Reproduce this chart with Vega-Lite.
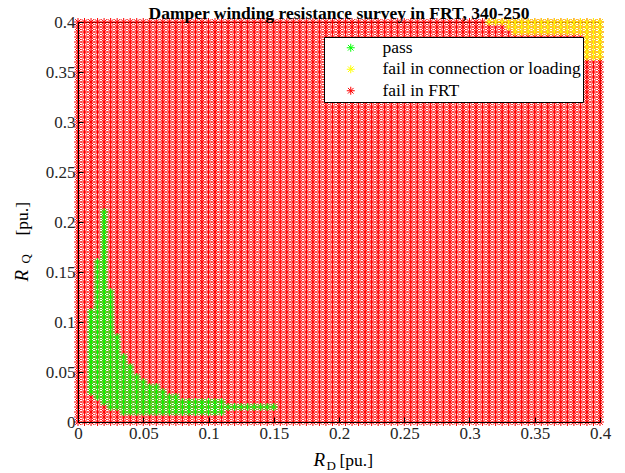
{
  "$schema": "https://vega.github.io/schema/vega-lite/v6.json",
  "width": 522,
  "height": 400,
  "autosize": {"type": "none"},
  "padding": {"left": 78, "top": 22, "right": 25, "bottom": 51},
  "background": "white",
  "title": {
    "text": "Damper winding resistance survey in FRT, 340-250",
    "font": "Liberation Serif",
    "fontSize": 17.5,
    "fontWeight": "bold",
    "color": "black",
    "anchor": "middle",
    "frame": "group",
    "baseline": "alphabetic",
    "offset": -23
  },
  "config": {
    "view": {"stroke": "black", "strokeWidth": 1},
    "axis": {
      "grid": false,
      "labelFont": "Liberation Serif",
      "labelFontSize": 17,
      "labelColor": "#262626",
      "labelFlush": false,
      "titleColor": "black",
      "titleFont": "Liberation Serif",
      "titleFontWeight": "normal",
      "domainColor": "black",
      "tickColor": "black"
    }
  },
  "datasets": {
    "surveyGrid": [
      {
        "RD": [0,0.005,0.01,0.015,0.02,0.025,0.03,0.035,0.04,0.045,0.05,0.055,0.06,0.065,0.07,0.075,0.08,0.085,0.09,0.095,0.1,0.105,0.11,0.115,0.12,0.125,0.13,0.135,0.14,0.145,0.15,0.155,0.16,0.165,0.17,0.175,0.18,0.185,0.19,0.195,0.2,0.205,0.21,0.215,0.22,0.225,0.23,0.235,0.24,0.245,0.25,0.255,0.26,0.265,0.27,0.275,0.28,0.285,0.29,0.295,0.3,0.305,0.31,0.315,0.32,0.325,0.33,0.335,0.34,0.345,0.35,0.355,0.36,0.365,0.37,0.375,0.38,0.385,0.39,0.395,0.4],
        "RQ": [0,0.005,0.01,0.015,0.02,0.025,0.03,0.035,0.04,0.045,0.05,0.055,0.06,0.065,0.07,0.075,0.08,0.085,0.09,0.095,0.1,0.105,0.11,0.115,0.12,0.125,0.13,0.135,0.14,0.145,0.15,0.155,0.16,0.165,0.17,0.175,0.18,0.185,0.19,0.195,0.2,0.205,0.21,0.215,0.22,0.225,0.23,0.235,0.24,0.245,0.25,0.255,0.26,0.265,0.27,0.275,0.28,0.285,0.29,0.295,0.3,0.305,0.31,0.315,0.32,0.325,0.33,0.335,0.34,0.345,0.35,0.355,0.36,0.365,0.37,0.375,0.38,0.385,0.39,0.395,0.4],
        "result": "fail in FRT"
      }
    ],
    "pass": [
      {"RD":0.02,"RQ":0.21},{"RD":0.02,"RQ":0.205},{"RD":0.02,"RQ":0.2},{"RD":0.02,"RQ":0.195},{"RD":0.02,"RQ":0.19},
      {"RD":0.02,"RQ":0.185},{"RD":0.02,"RQ":0.18},{"RD":0.02,"RQ":0.175},{"RD":0.02,"RQ":0.17},{"RD":0.02,"RQ":0.165},
      {"RD":0.015,"RQ":0.16},{"RD":0.02,"RQ":0.16},
      {"RD":0.015,"RQ":0.155},{"RD":0.02,"RQ":0.155},
      {"RD":0.015,"RQ":0.15},{"RD":0.02,"RQ":0.15},
      {"RD":0.015,"RQ":0.145},{"RD":0.02,"RQ":0.145},
      {"RD":0.015,"RQ":0.14},{"RD":0.02,"RQ":0.14},
      {"RD":0.015,"RQ":0.135},{"RD":0.02,"RQ":0.135},
      {"RD":0.015,"RQ":0.13},{"RD":0.02,"RQ":0.13},{"RD":0.025,"RQ":0.13},
      {"RD":0.015,"RQ":0.125},{"RD":0.02,"RQ":0.125},{"RD":0.025,"RQ":0.125},
      {"RD":0.015,"RQ":0.12},{"RD":0.02,"RQ":0.12},{"RD":0.025,"RQ":0.12},
      {"RD":0.015,"RQ":0.115},{"RD":0.02,"RQ":0.115},{"RD":0.025,"RQ":0.115},
      {"RD":0.01,"RQ":0.11},{"RD":0.015,"RQ":0.11},{"RD":0.02,"RQ":0.11},{"RD":0.025,"RQ":0.11},
      {"RD":0.01,"RQ":0.105},{"RD":0.015,"RQ":0.105},{"RD":0.02,"RQ":0.105},{"RD":0.025,"RQ":0.105},
      {"RD":0.01,"RQ":0.1},{"RD":0.015,"RQ":0.1},{"RD":0.02,"RQ":0.1},{"RD":0.025,"RQ":0.1},
      {"RD":0.01,"RQ":0.095},{"RD":0.015,"RQ":0.095},{"RD":0.02,"RQ":0.095},{"RD":0.025,"RQ":0.095},
      {"RD":0.01,"RQ":0.09},{"RD":0.015,"RQ":0.09},{"RD":0.02,"RQ":0.09},{"RD":0.025,"RQ":0.09},
      {"RD":0.01,"RQ":0.085},{"RD":0.015,"RQ":0.085},{"RD":0.02,"RQ":0.085},{"RD":0.025,"RQ":0.085},{"RD":0.03,"RQ":0.085},
      {"RD":0.01,"RQ":0.08},{"RD":0.015,"RQ":0.08},{"RD":0.02,"RQ":0.08},{"RD":0.025,"RQ":0.08},{"RD":0.03,"RQ":0.08},
      {"RD":0.01,"RQ":0.075},{"RD":0.015,"RQ":0.075},{"RD":0.02,"RQ":0.075},{"RD":0.025,"RQ":0.075},{"RD":0.03,"RQ":0.075},
      {"RD":0.01,"RQ":0.07},{"RD":0.015,"RQ":0.07},{"RD":0.02,"RQ":0.07},{"RD":0.025,"RQ":0.07},{"RD":0.03,"RQ":0.07},
      {"RD":0.01,"RQ":0.065},{"RD":0.015,"RQ":0.065},{"RD":0.02,"RQ":0.065},{"RD":0.025,"RQ":0.065},{"RD":0.03,"RQ":0.065},{"RD":0.035,"RQ":0.065},
      {"RD":0.01,"RQ":0.06},{"RD":0.015,"RQ":0.06},{"RD":0.02,"RQ":0.06},{"RD":0.025,"RQ":0.06},{"RD":0.03,"RQ":0.06},{"RD":0.035,"RQ":0.06},
      {"RD":0.01,"RQ":0.055},{"RD":0.015,"RQ":0.055},{"RD":0.02,"RQ":0.055},{"RD":0.025,"RQ":0.055},{"RD":0.03,"RQ":0.055},{"RD":0.035,"RQ":0.055},{"RD":0.04,"RQ":0.055},
      {"RD":0.01,"RQ":0.05},{"RD":0.015,"RQ":0.05},{"RD":0.02,"RQ":0.05},{"RD":0.025,"RQ":0.05},{"RD":0.03,"RQ":0.05},{"RD":0.035,"RQ":0.05},{"RD":0.04,"RQ":0.05},
      {"RD":0.01,"RQ":0.045},{"RD":0.015,"RQ":0.045},{"RD":0.02,"RQ":0.045},{"RD":0.025,"RQ":0.045},{"RD":0.03,"RQ":0.045},{"RD":0.035,"RQ":0.045},{"RD":0.04,"RQ":0.045},{"RD":0.045,"RQ":0.045},
      {"RD":0.01,"RQ":0.04},{"RD":0.015,"RQ":0.04},{"RD":0.02,"RQ":0.04},{"RD":0.025,"RQ":0.04},{"RD":0.03,"RQ":0.04},{"RD":0.035,"RQ":0.04},{"RD":0.04,"RQ":0.04},{"RD":0.045,"RQ":0.04},{"RD":0.05,"RQ":0.04},
      {"RD":0.01,"RQ":0.035},{"RD":0.015,"RQ":0.035},{"RD":0.02,"RQ":0.035},{"RD":0.025,"RQ":0.035},{"RD":0.03,"RQ":0.035},{"RD":0.035,"RQ":0.035},{"RD":0.04,"RQ":0.035},{"RD":0.045,"RQ":0.035},{"RD":0.05,"RQ":0.035},{"RD":0.055,"RQ":0.035},{"RD":0.06,"RQ":0.035},
      {"RD":0.01,"RQ":0.03},{"RD":0.015,"RQ":0.03},{"RD":0.02,"RQ":0.03},{"RD":0.025,"RQ":0.03},{"RD":0.03,"RQ":0.03},{"RD":0.035,"RQ":0.03},{"RD":0.04,"RQ":0.03},{"RD":0.045,"RQ":0.03},{"RD":0.05,"RQ":0.03},{"RD":0.055,"RQ":0.03},{"RD":0.06,"RQ":0.03},{"RD":0.065,"RQ":0.03},
      {"RD":0.015,"RQ":0.025},{"RD":0.02,"RQ":0.025},{"RD":0.025,"RQ":0.025},{"RD":0.03,"RQ":0.025},{"RD":0.035,"RQ":0.025},{"RD":0.04,"RQ":0.025},{"RD":0.045,"RQ":0.025},{"RD":0.05,"RQ":0.025},{"RD":0.055,"RQ":0.025},{"RD":0.06,"RQ":0.025},{"RD":0.065,"RQ":0.025},{"RD":0.07,"RQ":0.025},{"RD":0.075,"RQ":0.025},
      {"RD":0.02,"RQ":0.02},{"RD":0.025,"RQ":0.02},{"RD":0.03,"RQ":0.02},{"RD":0.035,"RQ":0.02},{"RD":0.04,"RQ":0.02},{"RD":0.045,"RQ":0.02},{"RD":0.05,"RQ":0.02},{"RD":0.055,"RQ":0.02},{"RD":0.06,"RQ":0.02},{"RD":0.065,"RQ":0.02},{"RD":0.07,"RQ":0.02},{"RD":0.075,"RQ":0.02},{"RD":0.08,"RQ":0.02},{"RD":0.085,"RQ":0.02},{"RD":0.09,"RQ":0.02},{"RD":0.095,"RQ":0.02},{"RD":0.1,"RQ":0.02},{"RD":0.105,"RQ":0.02},{"RD":0.11,"RQ":0.02},
      {"RD":0.025,"RQ":0.015},{"RD":0.03,"RQ":0.015},{"RD":0.035,"RQ":0.015},{"RD":0.04,"RQ":0.015},{"RD":0.045,"RQ":0.015},{"RD":0.05,"RQ":0.015},{"RD":0.055,"RQ":0.015},{"RD":0.06,"RQ":0.015},{"RD":0.065,"RQ":0.015},{"RD":0.07,"RQ":0.015},{"RD":0.075,"RQ":0.015},{"RD":0.08,"RQ":0.015},{"RD":0.085,"RQ":0.015},{"RD":0.09,"RQ":0.015},{"RD":0.095,"RQ":0.015},{"RD":0.1,"RQ":0.015},{"RD":0.105,"RQ":0.015},{"RD":0.11,"RQ":0.015},{"RD":0.115,"RQ":0.015},{"RD":0.12,"RQ":0.015},{"RD":0.125,"RQ":0.015},{"RD":0.13,"RQ":0.015},{"RD":0.135,"RQ":0.015},{"RD":0.14,"RQ":0.015},{"RD":0.145,"RQ":0.015},{"RD":0.15,"RQ":0.015},
      {"RD":0.035,"RQ":0.01},{"RD":0.04,"RQ":0.01},{"RD":0.045,"RQ":0.01},{"RD":0.05,"RQ":0.01},{"RD":0.055,"RQ":0.01},{"RD":0.06,"RQ":0.01},{"RD":0.065,"RQ":0.01},{"RD":0.07,"RQ":0.01},{"RD":0.075,"RQ":0.01},{"RD":0.08,"RQ":0.01},{"RD":0.085,"RQ":0.01},{"RD":0.09,"RQ":0.01},{"RD":0.095,"RQ":0.01},{"RD":0.1,"RQ":0.01},{"RD":0.105,"RQ":0.01},{"RD":0.11,"RQ":0.01}
    ],
    "loadFail": [
      {"RD":0.315,"RQ":0.4},{"RD":0.32,"RQ":0.4},{"RD":0.325,"RQ":0.4},{"RD":0.33,"RQ":0.4},{"RD":0.335,"RQ":0.4},{"RD":0.34,"RQ":0.4},{"RD":0.345,"RQ":0.4},{"RD":0.35,"RQ":0.4},{"RD":0.355,"RQ":0.4},{"RD":0.36,"RQ":0.4},{"RD":0.365,"RQ":0.4},{"RD":0.37,"RQ":0.4},{"RD":0.375,"RQ":0.4},{"RD":0.38,"RQ":0.4},{"RD":0.385,"RQ":0.4},{"RD":0.39,"RQ":0.4},{"RD":0.395,"RQ":0.4},{"RD":0.4,"RQ":0.4},
      {"RD":0.33,"RQ":0.395},{"RD":0.335,"RQ":0.395},{"RD":0.34,"RQ":0.395},{"RD":0.345,"RQ":0.395},{"RD":0.35,"RQ":0.395},{"RD":0.355,"RQ":0.395},{"RD":0.36,"RQ":0.395},{"RD":0.365,"RQ":0.395},{"RD":0.37,"RQ":0.395},{"RD":0.375,"RQ":0.395},{"RD":0.38,"RQ":0.395},{"RD":0.385,"RQ":0.395},{"RD":0.39,"RQ":0.395},{"RD":0.395,"RQ":0.395},{"RD":0.4,"RQ":0.395},
      {"RD":0.335,"RQ":0.39},{"RD":0.34,"RQ":0.39},{"RD":0.345,"RQ":0.39},{"RD":0.35,"RQ":0.39},{"RD":0.355,"RQ":0.39},{"RD":0.36,"RQ":0.39},{"RD":0.365,"RQ":0.39},{"RD":0.37,"RQ":0.39},{"RD":0.375,"RQ":0.39},{"RD":0.38,"RQ":0.39},{"RD":0.385,"RQ":0.39},{"RD":0.39,"RQ":0.39},{"RD":0.395,"RQ":0.39},{"RD":0.4,"RQ":0.39},
      {"RD":0.39,"RQ":0.385},{"RD":0.395,"RQ":0.385},{"RD":0.4,"RQ":0.385},
      {"RD":0.39,"RQ":0.38},{"RD":0.395,"RQ":0.38},{"RD":0.4,"RQ":0.38},
      {"RD":0.39,"RQ":0.375},{"RD":0.395,"RQ":0.375},{"RD":0.4,"RQ":0.375},
      {"RD":0.39,"RQ":0.37},{"RD":0.395,"RQ":0.37},{"RD":0.4,"RQ":0.37},
      {"RD":0.39,"RQ":0.365},{"RD":0.395,"RQ":0.365},{"RD":0.4,"RQ":0.365}
    ]
  },
  "resolve": {"axis": {"x": "independent", "y": "independent"}},
  "layer": [
    {
      "data": {"name": "surveyGrid"},
      "transform": [{"flatten": ["RD"]}, {"flatten": ["RQ"]}],
      "mark": {"type": "point", "shape": "M-1,0L1,0M0,-1L0,1M-0.7,-0.7L0.7,0.7M-0.7,0.7L0.7,-0.7", "filled": false, "size": 64, "strokeWidth": 1, "opacity": 1},
      "encoding": {
        "x": {
          "field": "RD", "type": "quantitative",
          "scale": {"domain": [0, 0.4], "nice": false},
          "axis": {
            "orient": "bottom", "zindex": 1,
            "values": [0, 0.05, 0.1, 0.15, 0.2, 0.25, 0.3, 0.35, 0.4],
            "format": "~g", "tickSize": -5, "labelPadding": 8,
            "title": "R", "titleFontStyle": "italic", "titleFontSize": 19,
            "titleX": 235, "titleY": 43, "titleAlign": "left", "titleBaseline": "alphabetic"
          }
        },
        "y": {
          "field": "RQ", "type": "quantitative",
          "scale": {"domain": [0, 0.4], "nice": false},
          "axis": {
            "orient": "left", "zindex": 1,
            "values": [0, 0.05, 0.1, 0.15, 0.2, 0.25, 0.3, 0.35, 0.4],
            "format": "~g", "tickSize": -5, "labelPadding": 8,
            "title": "R", "titleFontStyle": "italic", "titleFontSize": 19, "titleAngle": -90,
            "titleX": -51, "titleY": 259, "titleAlign": "left", "titleBaseline": "alphabetic"
          }
        },
        "color": {
          "field": "result", "type": "nominal",
          "scale": {"domain": ["pass", "fail in connection or loading", "fail in FRT"], "range": ["#00ff00", "#ffff00", "#ff0000"]},
          "legend": {
            "orient": "none", "legendX": 246, "legendY": 15, "title": null,
            "fillColor": "white", "strokeColor": "black", "cornerRadius": 0,
            "padding": 2, "symbolOffset": 16, "labelOffset": 23, "rowPadding": 2.5,
            "symbolType": "M-1,0L1,0M0,-1L0,1M-0.7,-0.7L0.7,0.7M-0.7,0.7L0.7,-0.7",
            "symbolSize": 64, "symbolStrokeWidth": 1,
            "labelFont": "Liberation Serif", "labelFontSize": 17.5, "labelColor": "black", "labelLimit": 400
          }
        }
      }
    },
    {
      "data": {"name": "pass"},
      "mark": {"type": "point", "shape": "M-1,0L1,0M0,-1L0,1M-0.7,-0.7L0.7,0.7M-0.7,0.7L0.7,-0.7", "filled": false, "size": 64, "strokeWidth": 1, "opacity": 1, "color": "#00ff00"},
      "encoding": {
        "x": {
          "field": "RD", "type": "quantitative",
          "axis": {"orient": "bottom", "labels": false, "ticks": false, "domain": false, "title": "D", "titleFontSize": 13,
                   "titleX": 248, "titleY": 47, "titleAlign": "left", "titleBaseline": "alphabetic"}
        },
        "y": {
          "field": "RQ", "type": "quantitative",
          "axis": {"orient": "left", "labels": false, "ticks": false, "domain": false, "title": "Q", "titleFontSize": 13, "titleAngle": -90,
                   "titleX": -49, "titleY": 241, "titleAlign": "left", "titleBaseline": "alphabetic"}
        }
      }
    },
    {
      "data": {"name": "loadFail"},
      "mark": {"type": "point", "shape": "M-1,0L1,0M0,-1L0,1M-0.7,-0.7L0.7,0.7M-0.7,0.7L0.7,-0.7", "filled": false, "size": 64, "strokeWidth": 1, "opacity": 1, "color": "#ffff00"},
      "encoding": {
        "x": {
          "field": "RD", "type": "quantitative",
          "axis": {"orient": "bottom", "labels": false, "ticks": false, "domain": false, "title": "[pu.]", "titleFontSize": 17.5,
                   "titleX": 261, "titleY": 43, "titleAlign": "left", "titleBaseline": "alphabetic"}
        },
        "y": {
          "field": "RQ", "type": "quantitative",
          "axis": {"orient": "left", "labels": false, "ticks": false, "domain": false, "title": "[pu.]", "titleFontSize": 17.5, "titleAngle": -90,
                   "titleX": -51, "titleY": 213, "titleAlign": "left", "titleBaseline": "alphabetic"}
        }
      }
    }
  ]
}
